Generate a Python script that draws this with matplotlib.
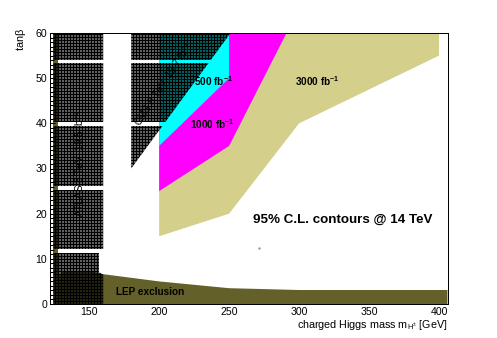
import matplotlib
matplotlib.use('Agg')
import matplotlib.pyplot as plt
from matplotlib.patches import Polygon, Rectangle
from matplotlib.ticker import MultipleLocator

DPI = 108


def fs(px):
    # font size given in pixels -> points
    return px * 72.0 / DPI


plt.rcParams['font.family'] = ['Liberation Sans', 'DejaVu Sans']
plt.rcParams['mathtext.fontset'] = 'custom'
plt.rcParams['mathtext.rm'] = 'Liberation Sans'
plt.rcParams['mathtext.it'] = 'Liberation Sans:italic'
plt.rcParams['mathtext.bf'] = 'Liberation Sans:bold'
plt.rcParams['mathtext.default'] = 'regular'
plt.rcParams['hatch.linewidth'] = 1.5 * 72.0 / DPI

# projected 95% CL contours (charged Higgs mass [GeV], tan beta)
mass_3000 = [200, 250, 300, 400, 400, 200]
tanb_3000 = [15, 20, 40, 55, 60, 60]
mass_1000 = [200, 250, 291, 200]
tanb_1000 = [25, 35, 60, 60]
mass_500 = [200, 250, 250, 200]
tanb_500 = [35, 50, 60, 60]

# existing exclusions
mass_atlas = [124.5, 160, 160, 157, 157, 160, 160, 124.5]
tanb_atlas = [60, 60, 11.3, 11.3, 7, 6.5, 0, 0]
mass_cms = [180, 251, 180]
tanb_cms = [60, 60, 30]
mass_lep = [124.5, 124.5, 126, 131, 150, 160, 200, 250, 300, 406, 406]
tanb_lep = [0, 5, 5.3, 7.1, 7.3, 6.6, 5.0, 3.5, 3.1, 3.1, 0]

# gaps in the hatched exclusion bands
bands = [(0, 11.4), (12.2, 25.3), (26.1, 39.5), (40.3, 53.3), (54.1, 60)]

xmin, xmax = 122, 406.4
ymin, ymax = 0, 60

fig = plt.figure(figsize=(498 / DPI, 338 / DPI), dpi=DPI)
ax = fig.add_axes([50 / 498, 34 / 338, 398 / 498, 271 / 338])
ax.set_xlim(xmin, xmax)
ax.set_ylim(ymin, ymax)

ax.add_patch(Polygon(list(zip(mass_3000, tanb_3000)), closed=True,
                     facecolor='#d4cf8a', edgecolor='none', zorder=1))
ax.add_patch(Polygon(list(zip(mass_1000, tanb_1000)), closed=True,
                     facecolor='#ff00ff', edgecolor='none', zorder=1.1))
ax.add_patch(Polygon(list(zip(mass_500, tanb_500)), closed=True,
                     facecolor='#00ffff', edgecolor='none', zorder=1.2))

bold = dict(fontweight='bold', fontsize=fs(10), ha='center', va='center', zorder=3)
ax.text(238.6, 49.3, r'500 fb$^{\mathbf{-1}}$', **bold)
ax.text(238.2, 39.8, r'1000 fb$^{\mathbf{-1}}$', **bold)
ax.text(312.9, 49.3, r'3000 fb$^{\mathbf{-1}}$', **bold)

# LEP
ax.add_patch(Polygon(list(zip(mass_lep, tanb_lep)), closed=True,
                     facecolor='#63602a', edgecolor='none', zorder=3.5))
ax.add_patch(Rectangle((124.5, 0), 3, 60, facecolor='#63602a',
                       edgecolor='none', zorder=3.5))

# hatched exclusions, drawn band by band
for m, t in [(mass_atlas, tanb_atlas), (mass_cms, tanb_cms)]:
    for lo, hi in bands:
        p = Polygon(list(zip(m, t)), closed=True, facecolor=(0, 0, 0, 0.25),
                    edgecolor='black', linewidth=0, hatch='++++++', zorder=4)
        ax.add_patch(p)
        p.set_clip_path(Rectangle((xmin, lo), xmax - xmin, hi - lo,
                                  transform=ax.transData))

ax.text(143.5, 31.2, r'ATLAS 8 TeV, 19.5 fb$^{-1}$', rotation=90,
        fontsize=fs(10), ha='center', va='center', zorder=5)
ax.text(203.2, 48.7, r'CMS 8 TeV, 19.7 fb$^{-1}$', rotation=57,
        fontsize=fs(10), ha='center', va='center', zorder=5)
ax.text(193.6, 2.65, 'LEP exclusion', fontweight='bold', fontsize=fs(10),
        ha='center', va='center', zorder=5)
ax.text(331, 18.6, '95% C.L. contours @ 14 TeV', fontweight='bold',
        fontsize=fs(13.4), ha='center', va='center', zorder=5)
ax.plot([271.4], [12.4], marker='.', markersize=1, color='gray', zorder=5)

ax.xaxis.set_major_locator(MultipleLocator(50))
ax.yaxis.set_major_locator(MultipleLocator(10))
ax.yaxis.set_minor_locator(MultipleLocator(1))
ax.tick_params(axis='x', length=0, labelsize=fs(10.5), pad=3 * 72 / DPI)
ax.tick_params(axis='y', which='major', direction='in', length=5 * 72 / DPI,
               width=0.7, labelsize=fs(10.5), pad=3 * 72 / DPI)
ax.tick_params(axis='y', which='minor', direction='in', length=3.5 * 72 / DPI,
               width=0.7)
for a in [ax.xaxis, ax.yaxis]:
    a.set_zorder(10)
for s in ax.spines.values():
    s.set_zorder(11)
    s.set_linewidth(72 / DPI)

fig.text(21.5 / 498, 1 - 28 / 338, r'tan$\beta$', rotation=90,
         fontsize=fs(11), ha='center', va='top')
fig.text(448 / 498, 10 / 338, r'charged Higgs mass m$_{H^{\pm}}$ [GeV]',
         fontsize=fs(10.7), ha='right', va='baseline')

fig.savefig('out.png', dpi=DPI)
